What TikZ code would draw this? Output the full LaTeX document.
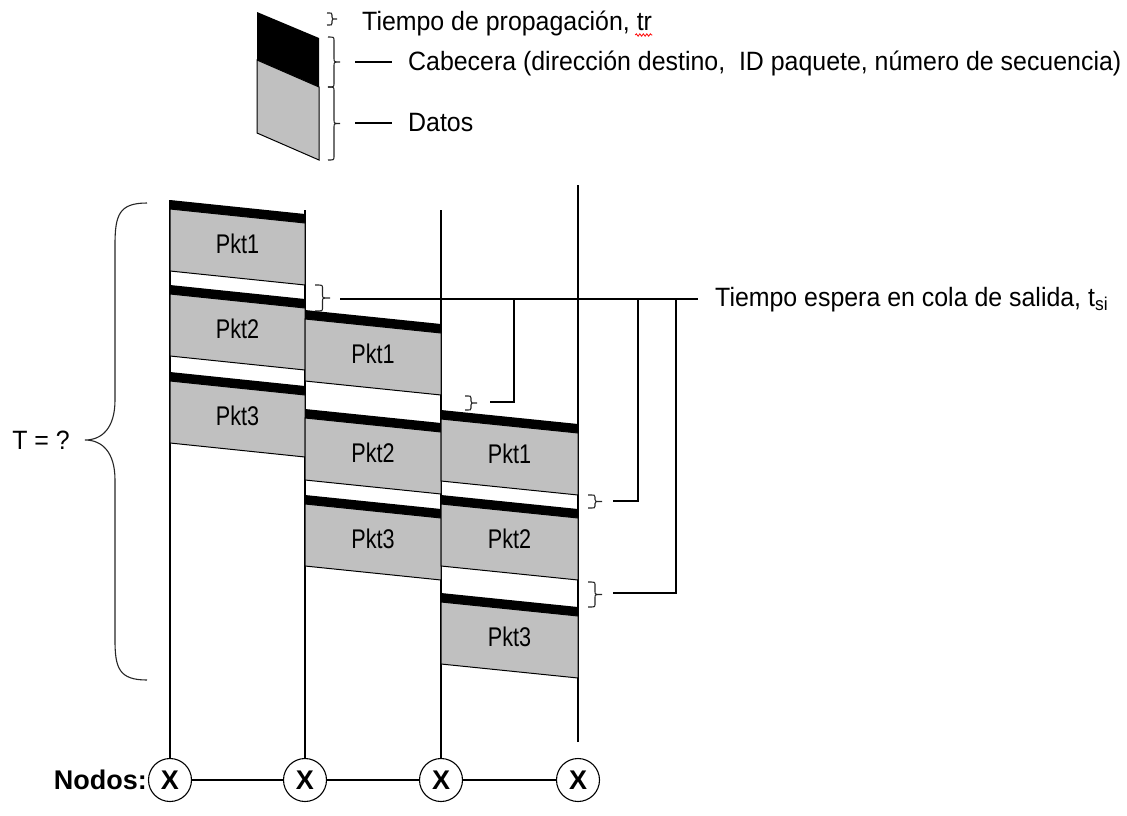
\documentclass[tikz,border=0pt]{standalone}
\usepackage{fontspec}
\setmainfont{Liberation Sans}
\newfontfamily\condfont[FakeStretch=0.94]{Liberation Sans}
\newfontfamily\narrowfont[FakeStretch=0.8]{Liberation Sans}
\usetikzlibrary{decorations.pathmorphing,calc}
\definecolor{pktgray}{HTML}{C0C0C0}
\tikzset{
  lbl/.style={font=\condfont\fontsize{26.5}{30}\selectfont, inner sep=0pt},
  pktlbl/.style={font=\narrowfont\fontsize{27}{30}\selectfont, inner sep=0pt},
  ln/.style={line width=1.2pt},
  nodo/.style={circle, draw, line width=1.1pt, minimum size=43pt, inner sep=0pt, font=\bfseries\fontsize{27}{30}\selectfont},
  dat/.style={fill=pktgray, draw=black, line width=1pt},
  br/.style={line width=1.1pt, draw=black!85},
}
\newcommand{\drawpkt}[5]{%
  \fill[black] (#1,#3) -- ({#1+#2},{#3+14}) -- ({#1+#2},{#3+23}) -- (#1,{#3+9}) -- cycle;
  \filldraw[dat] (#1,{#3+9}) -- ({#1+#2},{#3+23}) -- ({#1+#2},{#3+85}) -- (#1,{#3+71}) -- cycle;
  \node[pktlbl] (#4) at ({#1+#2/2},{#3+44}) {#5};
}
\newcommand{\rbr}[5]{%
  \draw[br] (#1,#2) .. controls ({#1+#4/2},#2) .. ({#1+#4/2},{#2+#5})
    -- ({#1+#4/2},{(#2+#3)/2-#5}) .. controls ({#1+#4/2},{(#2+#3)/2}) .. ({#1+#4},{(#2+#3)/2})
    .. controls ({#1+#4/2},{(#2+#3)/2}) .. ({#1+#4/2},{(#2+#3)/2+#5})
    -- ({#1+#4/2},{#3-#5}) .. controls ({#1+#4/2},#3) .. (#1,#3);
}
\begin{document}
\begin{tikzpicture}[x=1pt,y=-1pt]
\useasboundingbox (0,0) rectangle (1127,815);

% ---------- legend ----------
\fill[black] (257,12) -- (319,38) -- (319,87) -- (257,60) -- cycle;
\filldraw[dat] (257,60) -- (319,87) -- (319,160) -- (257,133) -- cycle;
\rbr{327}{13}{25}{10}{2}
\rbr{328}{37}{87}{12}{4}
\rbr{328}{87}{160}{12}{4}
\node[lbl, anchor=base west] (tprop) at (362,30) {Tiempo de propagación, tr};
\draw[red, line width=0.8pt, decorate, decoration={snake, amplitude=1.2pt, segment length=3.5pt}]
  ($(tprop.base east)+(-17,5)$) -- ($(tprop.base east)+(0,5)$);
\coordinate (cabA) at (355,62);
\coordinate (cabB) at (392,62);
\draw[ln] (cabA) -- (cabB);
\node[lbl, anchor=base west] (cab) at (408,70) {Cabecera (dirección destino,~ ID paquete, número de secuencia)};
\coordinate (datA) at (355,123);
\coordinate (datB) at (392,123);
\draw[ln] (datA) -- (datB);
\node[lbl, anchor=base west] (datos) at (408,131) {Datos};

% ---------- nodes ----------
\node[nodo] (n1) at (170,780) {X};
\node[nodo] (n2) at (305,780) {X};
\node[nodo] (n3) at (441,780) {X};
\node[nodo] (n4) at (578,780) {X};
\node[anchor=east, inner sep=1pt, font=\bfseries\fontsize{27}{30}\selectfont] (nodos) at (n1.west) {Nodos:};
\draw[ln] (n1) -- (n2);
\draw[ln] (n2) -- (n3);
\draw[ln] (n3) -- (n4);

% ---------- time lines ----------
\coordinate (t1) at (170,200);
\coordinate (t2) at (305,210);
\coordinate (t3) at (441,210);
\coordinate (t4) at (578,185);
\coordinate (b4) at (578,742);
\draw[ln] (n1) -- (t1);
\draw[ln] (n2) -- (t2);
\draw[ln] (n3) -- (t3);
\draw[ln] (b4) -- (t4);

% ---------- packets ----------
\drawpkt{170}{135}{200}{p11}{Pkt1}
\drawpkt{170}{135}{285}{p12}{Pkt2}
\drawpkt{170}{135}{372}{p13}{Pkt3}
\drawpkt{305}{136}{310}{p21}{Pkt1}
\drawpkt{305}{136}{409}{p22}{Pkt2}
\drawpkt{305}{136}{495}{p23}{Pkt3}
\drawpkt{441}{137}{410}{p31}{Pkt1}
\drawpkt{441}{137}{495}{p32}{Pkt2}
\drawpkt{441}{137}{593}{p33}{Pkt3}

% ---------- T = ? ----------
\draw[br] (147,203) .. controls (119,203) and (115,215) .. (115,245) -- (115,400)
  .. controls (115,428) and (102,440) .. (85,440)
  .. controls (102,440) and (115,452) .. (115,480) -- (115,640)
  .. controls (115,668) and (119,680) .. (147,680);
\node[lbl, anchor=east] (T) at (70,440) {T = ?};

% ---------- waiting time callouts ----------
\rbr{315}{285}{311}{15}{3}
\rbr{465}{396}{410}{12}{2}
\rbr{588}{495}{508}{14}{2}
\rbr{588}{582}{607}{14}{3}
\coordinate (w0) at (340,299);
\coordinate (w1) at (698,299);
\draw[ln] (w0) -- (w1);
\node[lbl, anchor=base west] (tsi) at (715,306) {Tiempo espera en cola de salida, t\textsubscript{si}};
\coordinate (d1) at (514,299);
\coordinate (e1) at (490,402);
\coordinate (d2) at (638,299);
\coordinate (e2) at (613,501);
\coordinate (d3) at (676,299);
\coordinate (e3) at (613,593);
\draw[ln] (d1) |- (e1);
\draw[ln] (d2) |- (e2);
\draw[ln] (d3) |- (e3);
\end{tikzpicture}
\end{document}
